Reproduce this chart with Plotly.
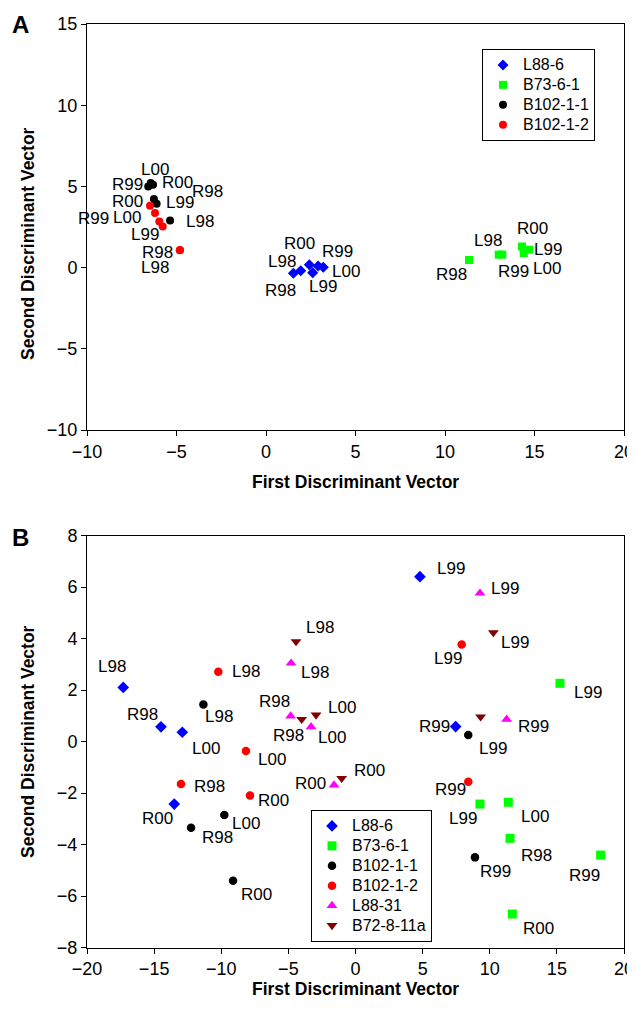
import plotly.graph_objects as go

# ---------------- Panel A data ----------------
a_l886_x = [1.53, 1.94, 2.42, 2.61, 2.91, 3.20]
a_l886_y = [-0.35, -0.19, 0.17, -0.31, 0.10, 0.02]
a_l886_lab = ["R98", "L98", "R00", "L99", "R99", "L00"]

a_b7361_x = [11.34, 13.0, 13.2, 14.4, 14.3, 14.7]
a_b7361_y = [0.47, 0.8, 0.8, 0.9, 1.3, 1.1]
a_b7361_lab = ["R98", "L98", "R99", "L00", "R00", "L99"]

a_b10211_x = [-6.44, -6.58, -6.31, -6.26, -6.11, -5.36]
a_b10211_y = [5.21, 5.0, 5.1, 4.22, 3.93, 2.90]
a_b10211_lab = ["L00", "R99", "R00", "R98", "L99", "L98"]

a_b10212_x = [-6.48, -6.20, -5.96, -5.77, -4.80, -4.82]
a_b10212_y = [3.81, 3.36, 2.84, 2.53, 1.09, 1.07]
a_b10212_lab = ["R00", "R99", "L00", "L99", "R98", "L98"]

# ---------------- Panel B data ----------------
b_l886_x = [-17.3, -14.49, -12.9, -13.5, 4.8, 7.46]
b_l886_y = [2.10, 0.57, 0.36, -2.43, 6.4, 0.58]
b_l886_lab = ["L98", "R98", "L00", "R00", "L99", "R99"]

b_b7361_x = [15.23, 9.27, 11.38, 11.51, 18.26, 11.68]
b_b7361_y = [2.26, -2.43, -2.36, -3.76, -4.41, -6.70]
b_b7361_lab = ["L99", "L99", "L00", "R98", "R99", "R00"]

b_b10211_x = [-11.33, -9.77, -12.25, -9.12, 8.40, 8.90]
b_b10211_y = [1.44, -2.85, -3.35, -5.41, 0.25, -4.50]
b_b10211_lab = ["L98", "L00", "R98", "R00", "L99", "R99"]

b_b10212_x = [-10.22, -8.16, -13.0, -7.86, 7.91, 8.40]
b_b10212_y = [2.71, -0.37, -1.65, -2.10, 3.77, -1.56]
b_b10212_lab = ["L98", "L00", "R98", "R00", "L99", "R99"]

b_l8831_x = [-4.80, -4.83, -3.31, -1.60, 9.27, 11.26]
b_l8831_y = [3.04, 0.99, 0.57, -1.69, 5.76, 0.86]
b_l8831_lab = ["L98", "R98", "L00", "R00", "L99", "R99"]

b_b72811_x = [-4.43, -4.01, -2.94, -1.03, 10.27, 9.32]
b_b72811_y = [3.88, 0.86, 1.03, -1.43, 4.23, 0.96]
b_b72811_lab = ["L98", "R98", "L00", "R00", "L99", ""]

series_names_a = ["L88-6", "B73-6-1", "B102-1-1", "B102-1-2"]
series_names_b = ["L88-6", "B73-6-1", "B102-1-1", "B102-1-2", "L88-31", "B72-8-11a"]

# ---------------- styles (pixel label offsets: dx right, dy down) ----------------
off_a = [
    [(-13, 17), (-19, -9), (-10, -21), (10, 14), (19, -14), (23, 4)],
    [(-17, 15), (-11, -14), (11, 17), (23, 16), (11, -18), (19, 0)],
    [(4, -13), (-21, -2), (24, -2), (54, -8), (23, -1), (30, 1)],
    [(-23, -4), (-62, 5), (-32, -4), (-18, 8), (-23, 3), (-25, 17)],
]
off_b = [
    [(-11, -21), (-18, -12), (24, 16), (-17, 14), (31, -8), (-21, 0)],
    [(28, 9), (-17, 14), (27, 14), (26, 17), (-16, 20), (26, 14)],
    [(16, 12), (22, 9), (26, 10), (23, 14), (25, 13), (21, 14)],
    [(28, 0), (26, 8), (29, 3), (24, 5), (-14, 14), (-18, 8)],
    [(24, 9), (-16, -15), (21, 11), (-24, -2), (25, -5), (27, 7)],
    [(24, -14), (-13, 16), (26, -7), (28, -8), (22, 10), (0, 0)],
]
colors = ["#0000FF", "#00FF00", "#000000", "#FF0000", "#FF00FF", "#800000"]
symbols = ["diamond", "square", "circle", "circle", "triangle-up", "triangle-down"]
sizes_a = [8.5, 8, 8, 8]
sizes_b = [9, 9, 8.5, 8.5, 9.5, 9.5]

FONT = "Arial, 'Liberation Sans', sans-serif"

def legend_name(s):
    return '<span style="font-size:16px">' + s + '</span>'

fig = go.Figure()
annotations = []

data_a = [
    (a_l886_x, a_l886_y, a_l886_lab),
    (a_b7361_x, a_b7361_y, a_b7361_lab),
    (a_b10211_x, a_b10211_y, a_b10211_lab),
    (a_b10212_x, a_b10212_y, a_b10212_lab),
]
data_b = [
    (b_l886_x, b_l886_y, b_l886_lab),
    (b_b7361_x, b_b7361_y, b_b7361_lab),
    (b_b10211_x, b_b10211_y, b_b10211_lab),
    (b_b10212_x, b_b10212_y, b_b10212_lab),
    (b_l8831_x, b_l8831_y, b_l8831_lab),
    (b_b72811_x, b_b72811_y, b_b72811_lab),
]

for i, (xs, ys, labs) in enumerate(data_a):
    fig.add_trace(go.Scatter(
        x=xs, y=ys, mode="markers", name=legend_name(series_names_a[i]),
        marker=dict(symbol=symbols[i], color=colors[i], size=sizes_a[i], line=dict(width=0)),
        xaxis="x", yaxis="y", legend="legend", cliponaxis=False))
    for j, lab in enumerate(labs):
        if not lab:
            continue
        dx, dy = off_a[i][j]
        annotations.append(dict(x=xs[j], y=ys[j], xref="x", yref="y", text=lab,
                                showarrow=False, xshift=dx, yshift=-dy,
                                xanchor="center", yanchor="middle",
                                font=dict(family=FONT, size=17, color="black")))

for i, (xs, ys, labs) in enumerate(data_b):
    fig.add_trace(go.Scatter(
        x=xs, y=ys, mode="markers", name=legend_name(series_names_b[i]),
        marker=dict(symbol=symbols[i], color=colors[i], size=sizes_b[i], line=dict(width=0)),
        xaxis="x2", yaxis="y2", legend="legend2", cliponaxis=False))
    for j, lab in enumerate(labs):
        if not lab:
            continue
        dx, dy = off_b[i][j]
        annotations.append(dict(x=xs[j], y=ys[j], xref="x2", yref="y2", text=lab,
                                showarrow=False, xshift=dx, yshift=-dy,
                                xanchor="center", yanchor="middle",
                                font=dict(family=FONT, size=17, color="black")))

# page has an 8px body margin: map page pixels to figure paper coordinates
OFF = 8
W, H = 627, 994

def px(v):
    return (v - OFF) / W

def py(v):
    return 1 - (v - OFF) / H

title_font = dict(family=FONT, size=17.5, color="black")
ctr = dict(xref="paper", yref="paper", showarrow=False, xanchor="center", yanchor="middle")
annotations += [
    dict(x=px(355), y=py(482), text="<b>First Discriminant Vector</b>", font=title_font, **ctr),
    dict(x=px(355), y=py(989), text="<b>First Discriminant Vector</b>", font=title_font, **ctr),
    dict(x=px(28), y=py(244), text="<b>Second Discriminant Vector</b>", textangle=-90,
         font=title_font, **ctr),
    dict(x=px(28), y=py(742), text="<b>Second Discriminant Vector</b>", textangle=-90,
         font=title_font, **ctr),
    dict(x=px(20), y=py(25), text="<b>A</b>", font=dict(family=FONT, size=24, color="black"), **ctr),
    dict(x=px(20), y=py(537), text="<b>B</b>", font=dict(family=FONT, size=24, color="black"), **ctr),
]

axis_common = dict(showgrid=False, zeroline=False, showline=True, linecolor="black", linewidth=1,
                   mirror=True, ticks="outside", ticklen=5, tickcolor="black", tickwidth=1,
                   automargin=False,
                   tickfont=dict(family=FONT, size=18, color="black"))

legend_common = dict(xanchor="left", yanchor="top", bgcolor="white",
                     bordercolor="black", borderwidth=1, itemwidth=30, tracegroupgap=0,
                     font=dict(family=FONT, size=13, color="black"))

fig.update_layout(
    width=W, height=H, margin=dict(l=0, r=0, t=0, b=0, autoexpand=False),
    paper_bgcolor="white", plot_bgcolor="white",
    xaxis=dict(domain=[px(87), px(624)], range=[-10, 20], tickvals=[-10, -5, 0, 5, 10, 15, 20],
               anchor="y", **axis_common),
    yaxis=dict(domain=[py(430), py(24)], range=[-10, 15], tickvals=[-10, -5, 0, 5, 10, 15],
               anchor="x", **axis_common),
    xaxis2=dict(domain=[px(87), px(624)], range=[-20, 20], tickvals=[-20, -15, -10, -5, 0, 5, 10, 15, 20],
                anchor="y2", **axis_common),
    yaxis2=dict(domain=[py(947.5), py(535.5)], range=[-8, 8], tickvals=[-8, -6, -4, -2, 0, 2, 4, 6, 8],
                anchor="x2", **axis_common),
    legend=dict(x=px(482), y=py(49), **legend_common),
    legend2=dict(x=px(311), y=py(810), **legend_common),
    annotations=annotations,
    showlegend=True,
)

fig.write_html("out.html")
